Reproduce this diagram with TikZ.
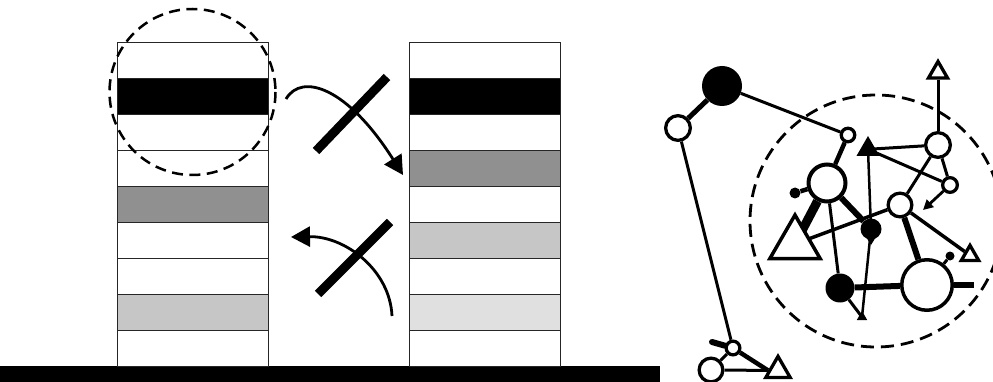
\documentclass[tikz,border=0pt]{standalone}
\usetikzlibrary{arrows.meta,shapes.geometric}
\definecolor{gA}{HTML}{909090}
\definecolor{gB}{HTML}{C6C6C6}
\definecolor{gC}{HTML}{E0E0E0}
\pgfdeclarelayer{bg}
\pgfsetlayers{bg,main}
\tikzset{
  row/.style={draw=black!85, line width=0.9pt},
  dcirc/.style={draw, line width=2.5pt, dash pattern=on 11pt off 6.5pt},
  slash/.style={line width=9pt},
  bigarrow/.style={line width=2.8pt, -{Triangle[length=19pt,width=20pt]}},
  wn/.style={circle, draw, fill=white, line width=3.3pt, inner sep=0pt},
  bn/.style={circle, fill=black, inner sep=0pt},
  wt/.style={regular polygon, regular polygon sides=3, draw, fill=white, line width=3.3pt, inner sep=0pt},
  bt/.style={regular polygon, regular polygon sides=3, fill=black, inner sep=0pt},
  ed/.style={line width=3pt},
  edt/.style={line width=2.5pt},
  edm/.style={line width=4.5pt},
  edk/.style={line width=6pt},
}
\begin{document}
\begin{tikzpicture}[x=1pt,y=-1pt]
\useasboundingbox (0,0) rectangle (993,382);
\clip (0,0) rectangle (993,382);
% ground
\fill[black] (0,366) rectangle (660,382);
% left stack
\foreach \c [count=\i from 0] in {white,black,white,white,gA,white,white,gB,white}{
  \filldraw[row, fill=\c] (117,{42+36*\i}) rectangle (268,{78+36*\i});
}
% right stack
\foreach \c [count=\i from 0] in {white,black,white,gA,white,gB,white,gC,white}{
  \filldraw[row, fill=\c] (409,{42+36*\i}) rectangle (560,{78+36*\i});
}
% left dashed circle
\draw[dcirc] (192.5,92) circle (83);
% arrows
\coordinate (a1s) at (286,99);
\coordinate (a1e) at (403,175);
\draw[bigarrow] (a1s) .. controls (302,72) and (348,88) .. (a1e);
\draw[slash] (316,151) -- (387,77);
\coordinate (a2s) at (392,316);
\coordinate (a2e) at (291,237);
\draw[bigarrow] (a2s) .. controls (390,270) and (345,236) .. (a2e);
\draw[slash] (318,294) -- (390,222);

% right graph nodes
\node[bn, minimum size=40pt] (A) at (722,86) {};
\node[wn, minimum size=24.7pt] (B) at (678,128) {};
\node[wn, minimum size=13.5pt] (C) at (848,135) {};
\node[bt, minimum size=26.6pt] (T1) at (868,149.3) {};
\node[wn, minimum size=24.7pt] (D) at (938,145) {};
\node[wt, minimum size=22pt] (T2) at (938,72.5) {};
\node[wn, minimum size=14.7pt] (E) at (950,185) {};
\node[wn, minimum size=23.7pt] (F) at (900,205) {};
\node[wn, minimum size=37pt, line width=4pt] (G) at (827,183) {};
\node[bn, minimum size=11pt] (H) at (795,193) {};
\node[wt, minimum size=58pt, line width=3.5pt] (T3) at (795,244) {};
\node[bn, minimum size=21pt] (I) at (871,229) {};
\node[bn, minimum size=29pt] (J) at (840,288) {};
\node[bt, minimum size=12pt] (T4) at (862,317) {};
\node[wn, minimum size=50.5pt, line width=3.5pt] (K) at (927,285) {};
\node[bn, minimum size=9pt] (L) at (950,256) {};
\node[wt, minimum size=20pt] (T5) at (970,255.4) {};
\node[wn, minimum size=13.7pt] (M) at (733,348) {};
\node[wn, minimum size=23.7pt] (O) at (711,370) {};
\node[wt, minimum size=28pt] (T6) at (778,370.4) {};
\coordinate (ea) at (923,210);
\coordinate (ks) at (974,285);
\coordinate (ms) at (712,342);
% teardrop tail of I
\fill[black] ([shift={(-8,3)}]I.center) -- ([shift={(8,3)}]I.center) -- ([shift={(0,16)}]I.center) -- cycle;

\begin{pgfonlayer}{bg}
\draw[dcirc, line width=2.8pt, dash pattern=on 13pt off 7pt] (876,221) circle (126);
\draw[line width=5pt] (A) -- (B);
\draw[ed] (A) -- (C);
\draw[ed] (B) -- (M);
\draw[edm] (C) -- (G);
\draw[ed] (T1.center) -- (D);
\draw[ed] (T1.center) -- (E);
\draw[edt] (T1.center) -- (I.center);
\draw[edt] (I.center) -- (T4.center);
\draw[ed] (D) -- (T2);
\draw[ed] (D) -- (E);
\draw[ed] (D) -- (F);
\draw[line width=3.5pt] (F) -- (T3.center);
\draw[edk] (F) -- (K);
\draw[line width=3.5pt] (F) -- (T5);
\draw[edm] (G) -- (H);
\draw[line width=9pt] (G) -- (T3.center);
\draw[edk] (G) -- (I);
\draw[ed] (G) -- (J);
\draw[ed] (J) -- (T4.center);
\draw[edk] (J) -- (K);
\draw[ed] (K) -- (L);
\draw[edk] (K) -- (ks);
\draw[line width=6pt, line cap=round] (M) -- (ms);
\draw[ed] (M) -- (O);
\draw[edm] (M) -- (T6.west);
\draw[ed] (O) -- (T6.west);
\end{pgfonlayer}
\draw[line width=2.8pt, -{Triangle[length=10pt,width=10pt]}] (E) -- (ea);
\end{tikzpicture}
\end{document}
